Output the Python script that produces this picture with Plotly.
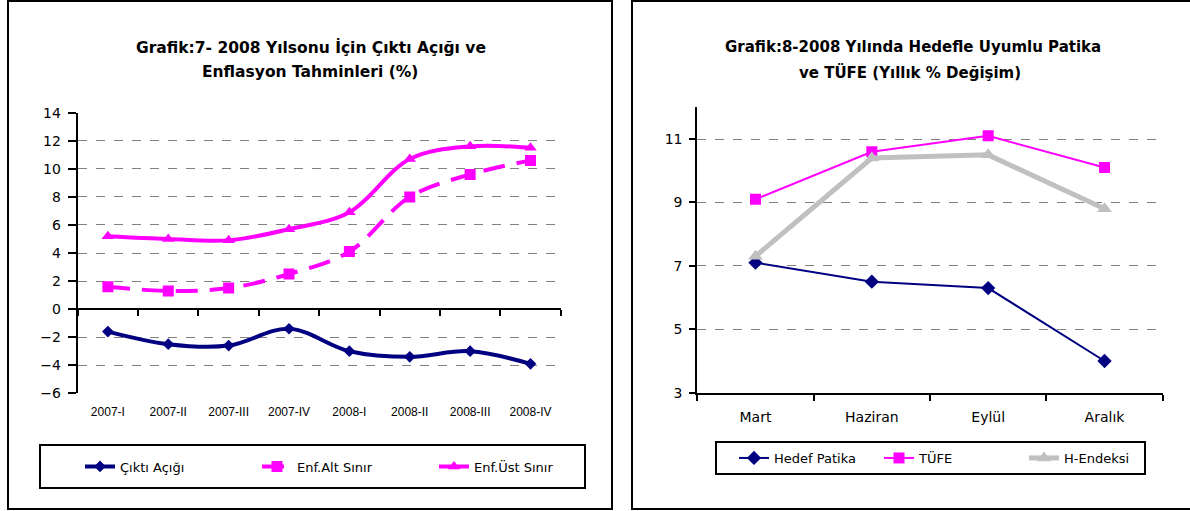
import plotly.graph_objects as go

# ---------------- data ----------------
quarters = ["2007-I", "2007-II", "2007-III", "2007-IV", "2008-I", "2008-II", "2008-III", "2008-IV"]
cikti_acigi = [-1.6, -2.5, -2.6, -1.4, -3.0, -3.4, -3.0, -3.9]
enf_alt = [1.6, 1.3, 1.5, 2.5, 4.1, 8.0, 9.6, 10.6]
enf_ust = [5.2, 5.0, 4.9, 5.7, 6.9, 10.7, 11.6, 11.5]

months = ["Mart", "Haziran", "Eylül", "Aralık"]
hedef_patika = [7.1, 6.5, 6.3, 4.0]
tufe = [9.1, 10.6, 11.1, 10.1]
h_endeksi = [7.3, 10.4, 10.5, 8.8]

left_yticks = [-6, -4, -2, 0, 2, 4, 6, 8, 10, 12, 14]
left_grid = [-4, -2, 2, 4, 6, 8, 10, 12]
right_yticks = [3, 5, 7, 9, 11]

title_left_1 = "Grafik:7- 2008 Yılsonu İçin Çıktı Açığı ve"
title_left_2 = "Enflasyon Tahminleri (%)"
title_right_1 = "Grafik:8-2008 Yılında Hedefle Uyumlu Patika"
title_right_2 = "ve TÜFE (Yıllık % Değişim)"

# ---------------- layout helpers ----------------
W, H = 1190, 511
def px(x):
    return x / W
def py(y):
    return 1 - y / H

FONT = "DejaVu Sans"
NAVY = "#000080"
MAG = "#FF00FF"
GREY = "#C0C0C0"

fig = go.Figure()

# left chart traces
fig.add_trace(go.Scatter(
    x=quarters, y=cikti_acigi, name="Çıktı Açığı", mode="lines+markers",
    line=dict(color=NAVY, width=4, shape="spline"),
    marker=dict(symbol="diamond", size=9, color=NAVY),
    xaxis="x", yaxis="y", legend="legend"))
fig.add_trace(go.Scatter(
    x=quarters, y=enf_alt, name="Enf.Alt Sınır", mode="lines+markers",
    line=dict(color=MAG, width=4, shape="spline", dash="22px,12px"),
    marker=dict(symbol="square", size=11, color=MAG),
    xaxis="x3", yaxis="y", legend="legend"))
fig.add_trace(go.Scatter(
    x=quarters, y=enf_ust, name="Enf.Üst Sınır", mode="lines+markers",
    line=dict(color=MAG, width=4, shape="spline"),
    marker=dict(symbol="triangle-up", size=11, color=MAG),
    xaxis="x", yaxis="y3", legend="legend"))

# right chart traces
fig.add_trace(go.Scatter(
    x=months, y=hedef_patika, name="Hedef Patika", mode="lines+markers",
    line=dict(color=NAVY, width=2),
    marker=dict(symbol="diamond", size=11, color=NAVY),
    xaxis="x2", yaxis="y2", legend="legend2"))
fig.add_trace(go.Scatter(
    x=months, y=tufe, name="TÜFE", mode="lines+markers",
    line=dict(color=MAG, width=2),
    marker=dict(symbol="square", size=11, color=MAG),
    xaxis="x2", yaxis="y2", legend="legend2"))
fig.add_trace(go.Scatter(
    x=months, y=h_endeksi, name="H-Endeksi", mode="lines+markers",
    line=dict(color=GREY, width=5),
    marker=dict(symbol="triangle-up", size=13, color=GREY),
    xaxis="x2", yaxis="y2", legend="legend2"))

# left geometry
L_X0, L_X1 = 77.7, 560.7
L_Y0, L_Y1 = 112.7, 393.3
zero_pos = py(L_Y0 + (L_Y1 - L_Y0) * 14 / 20)

# right geometry
R_X0, R_X1 = 697.3, 1162.7
R_Y0, R_Y1 = 107.3, 392.7

axis_font = dict(family=FONT, size=14, color="black")
nq = len(quarters)
nm = len(months)

def title_ann(text, x, y, size):
    return dict(text="<b>" + text + "</b>", x=px(x), y=py(y), xref="paper", yref="paper",
                xanchor="center", yanchor="middle", showarrow=False, align="center",
                font=dict(family=FONT, size=size, color="black"))

def frame(x0, x1, y0, y1):
    return dict(type="rect", xref="paper", yref="paper", x0=px(x0), x1=px(x1),
                y0=py(y1), y1=py(y0), line=dict(color="black", width=2),
                fillcolor="rgba(0,0,0,0)", layer="below")

fig.update_layout(
    width=W, height=H, autosize=False,
    margin=dict(l=0, r=0, t=0, b=0),
    paper_bgcolor="white", plot_bgcolor="white",
    showlegend=True,
    xaxis=dict(domain=[px(L_X0), px(L_X1)], anchor="y", type="category",
               categoryarray=quarters, categoryorder="array", range=[-0.5, nq - 0.5],
               showline=False, ticks="", showgrid=False, zeroline=False,
               tickfont=dict(family="Liberation Sans", size=12, color="black"),
               ticklabelstandoff=10, automargin=False),
    xaxis3=dict(overlaying="x", anchor="free", position=zero_pos, type="category",
                categoryarray=quarters, categoryorder="array", range=[-0.5, nq - 0.5],
                tickson="boundaries", ticks="outside", ticklen=6, tickwidth=2,
                tickcolor="black", showline=True, linewidth=2, linecolor="black",
                showticklabels=False, showgrid=False, zeroline=False, automargin=False),
    yaxis=dict(domain=[py(L_Y1), py(L_Y0)], anchor="x", range=[-6, 14],
               tickmode="array", tickvals=left_yticks,
               ticks="outside", ticklen=8, tickwidth=2, tickcolor="black",
               showline=True, linewidth=2, linecolor="black",
               showgrid=False, zeroline=False, tickfont=axis_font,
               ticklabelstandoff=4, automargin=False),
    yaxis3=dict(overlaying="y", anchor="x", range=[-6, 14],
                tickmode="array", tickvals=left_grid,
                showgrid=True, griddash="dash", gridcolor="#808080", gridwidth=1,
                showticklabels=False, ticks="", showline=False, zeroline=False,
                automargin=False),
    xaxis2=dict(domain=[px(R_X0), px(R_X1)], anchor="y2", type="category",
                categoryarray=months, categoryorder="array", range=[-0.5, nm - 0.5],
                tickson="boundaries", ticks="outside", ticklen=6, tickwidth=2,
                tickcolor="black", showline=True, linewidth=2, linecolor="black",
                showgrid=False, zeroline=False,
                tickfont=dict(family=FONT, size=14, color="black"),
                ticklabelstandoff=10, automargin=False),
    yaxis2=dict(domain=[py(R_Y1), py(R_Y0)], anchor="x2", range=[3, 12],
                tickmode="array", tickvals=right_yticks,
                ticks="outside", ticklen=6, tickwidth=2, tickcolor="black",
                showline=True, linewidth=2, linecolor="black",
                showgrid=True, griddash="dash", gridcolor="#808080", gridwidth=1,
                zeroline=False, tickfont=axis_font, ticklabelstandoff=4,
                automargin=False),
    legend=dict(orientation="h", x=px(80), y=py(466.5), xanchor="left", yanchor="middle",
                borderwidth=0, bgcolor="rgba(0,0,0,0)",
                font=dict(family=FONT, size=13, color="black"),
                entrywidth=132, itemwidth=30, tracegroupgap=0),
    legend2=dict(orientation="h", x=px(734), y=py(458), xanchor="left", yanchor="middle",
                 borderwidth=0, bgcolor="rgba(0,0,0,0)",
                 font=dict(family=FONT, size=13, color="black"),
                 entrywidth=100, itemwidth=30, tracegroupgap=0),
    annotations=[
        title_ann(title_left_1, 311, 47, 15.5),
        title_ann(title_left_2, 310, 72, 15.5),
        title_ann(title_right_1, 913, 47, 15),
        title_ann(title_right_2, 910, 72, 15),
    ],
    shapes=[
        frame(8, 612, 1, 509),
        frame(632, 1200, 1, 509),
        frame(40, 585, 445, 488),
        frame(716, 1145, 442, 474),
    ],
)

fig.write_html(
    "out.html",
    config={"displayModeBar": False},
    post_script="document.body.style.margin='0';document.body.style.padding='0';"
                "document.body.style.overflow='hidden';"
                "document.documentElement.style.overflow='hidden';",
)
